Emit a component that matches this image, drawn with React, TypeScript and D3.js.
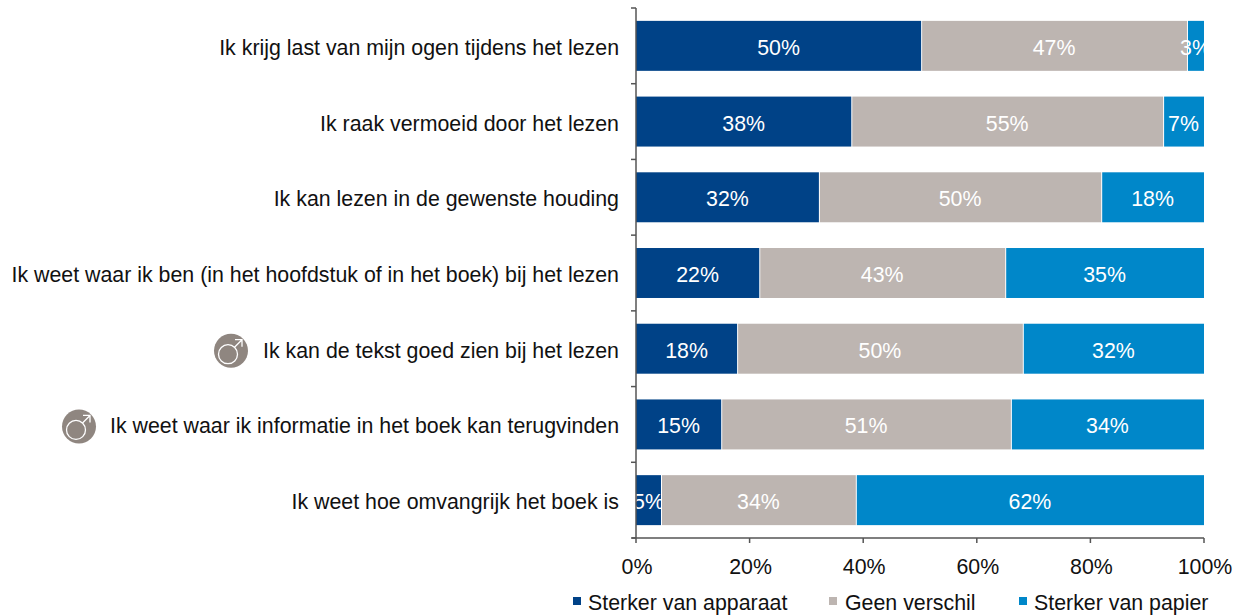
import React from "react";
import * as d3 from "d3";

const categories = [
  "Ik krijg last van mijn ogen tijdens het lezen",
  "Ik raak vermoeid door het lezen",
  "Ik kan lezen in de gewenste houding",
  "Ik weet waar ik ben (in het hoofdstuk of in het boek) bij het lezen",
  "Ik kan de tekst goed zien bij het lezen",
  "Ik weet waar ik informatie in het boek kan terugvinden",
  "Ik weet hoe omvangrijk het boek is",
];
const apparaat = [50.2, 37.9, 32.2, 21.7, 17.8, 15.0, 4.4];
const geen = [46.8, 54.9, 49.7, 43.3, 50.3, 51.0, 34.3];
const papier = [3.0, 7.2, 18.1, 35.0, 31.9, 34.0, 61.3];
const apparaatLabels = ["50%", "38%", "32%", "22%", "18%", "15%", "5%"];
const geenLabels = ["47%", "55%", "50%", "43%", "50%", "51%", "34%"];
const papierLabels = ["3%", "7%", "18%", "35%", "32%", "34%", "62%"];
const seriesNames = ["Sterker van apparaat", "Geen verschil", "Sterker van papier"];
const seriesColors = ["#004287", "#bdb5b1", "#0087c9"];
const xTicks = [0, 20, 40, 60, 80, 100];
const maleFlags = [false, false, false, false, true, true, false];

const FONT = "'Liberation Sans', Arial, sans-serif";
const W = 1237, H = 615;
const left = 636, right = 1204, top = 8, bottom = 538;
const FS = 21.35;

function MaleIcon({ cx, cy }: { cx: number; cy: number }) {
  return (
    <g transform={`translate(${cx},${cy})`}>
      <circle r={17} fill="#8f8680" />
      <circle cx={-3} cy={3.5} r={9.5} fill="none" stroke="#fff" strokeWidth={1.3} />
      <path d="M3.5,-3.5 L11,-11 M4,-11 H11 V-4" fill="none" stroke="#fff" strokeWidth={1.3} />
    </g>
  );
}

export default function App() {
  const x = d3.scaleLinear().domain([0, 100]).range([left, right]);
  const y = d3.scaleBand<number>().domain(d3.range(categories.length)).range([top, bottom]).paddingInner(0.34).paddingOuter(0.17);
  const stacks = [apparaat, geen, papier];
  const labels = [apparaatLabels, geenLabels, papierLabels];
  const bands = d3.range(categories.length + 1).map((i) => top + ((bottom - top) * i) / categories.length);
  const legendX = [573, 829, 1019];
  const legendTextX = [588, 845, 1034];
  return (
    <svg width={W} height={H} style={{ position: "absolute", left: 0, top: 0 }} fontFamily={FONT}>
      <defs>
        <clipPath id="plot"><rect x={left} y={top} width={right - left} height={bottom - top} /></clipPath>
      </defs>
      {categories.map((c, i) => {
        let acc = 0;
        return (
          <g key={c}>
            {stacks.map((s, k) => {
              const x0 = x(acc);
              acc += s[i];
              const x1 = x(acc);
              return (
                <g key={k}>
                  <rect x={x0 + (k ? 1 : 0)} y={y(i)} width={x1 - x0 - (k ? 1 : 0)} height={y.bandwidth()} fill={seriesColors[k]} />
                  <g clipPath="url(#plot)">
                    <text x={(x0 + x1) / 2} y={y(i)! + y.bandwidth() / 2 + 9} textAnchor="middle" fontSize={FS} fill="#fff">{labels[k][i]}</text>
                  </g>
                </g>
              );
            })}
            <text x={619} y={y(i)! + y.bandwidth() / 2 + 9} textAnchor="end" fontSize={FS} fill="#111">{c}</text>
            {maleFlags[i] && <MaleIcon cx={i === 4 ? 231 : 79} cy={y(i)! + y.bandwidth() / 2 + 2} />}
          </g>
        );
      })}
      <g stroke="#555" strokeWidth={1.5} fill="none">
        <line x1={left} x2={left} y1={top} y2={bottom} />
        <line x1={left - 4} x2={right} y1={bottom} y2={bottom} />
        {bands.map((b, i) => <line key={i} x1={left - 5} x2={left} y1={b} y2={b} />)}
        {xTicks.map((t) => <line key={t} x1={x(t)} x2={x(t)} y1={bottom} y2={bottom + 5} />)}
      </g>
      {xTicks.map((t) => (
        <text key={t} x={x(t) + 1} y={574} textAnchor="middle" fontSize={FS} fill="#111">{t}%</text>
      ))}
      {seriesNames.map((n, i) => (
        <g key={n}>
          <rect x={legendX[i]} y={597} width={8} height={8} fill={seriesColors[i]} />
          <text x={legendTextX[i]} y={610} fontSize={FS} fill="#111">{n}</text>
        </g>
      ))}
    </svg>
  );
}
